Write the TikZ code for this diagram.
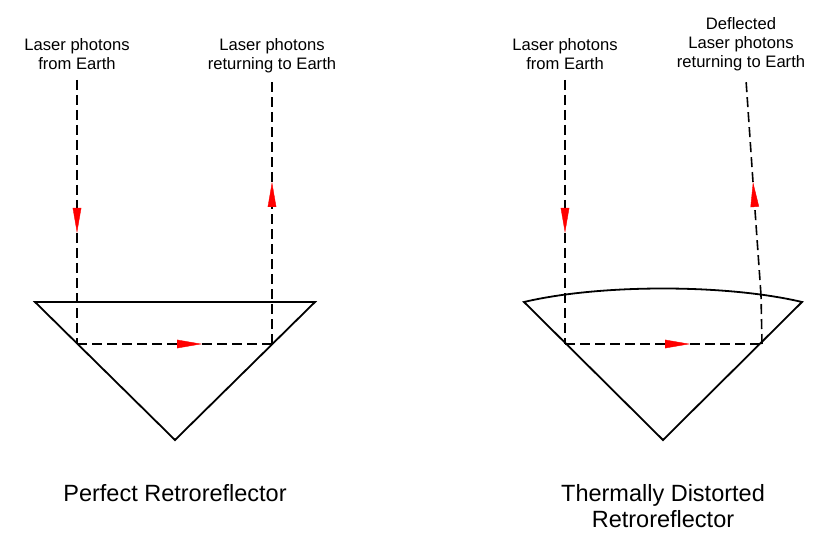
\documentclass[tikz,border=0pt]{standalone}
\usepackage{fontspec}
\setmainfont{Liberation Sans}
\usetikzlibrary{arrows.meta,positioning}

\begin{document}
\begin{tikzpicture}[x=1pt, y=-1pt,
                   prism/.style={line width=1.8pt, line join=miter},
                   ray/.style={line width=1.6pt, dash pattern=on 10pt off 5pt},
                   photon/.style={ray, -{Triangle[length=25pt, width=8.5pt, color=red, fill=red, line width=0.4pt]}},
                   lbl/.style={font=\fontsize{16.6}{19}\selectfont, align=center, inner sep=0pt, anchor=north},
                   heading/.style={font=\fontsize{23.5}{26}\selectfont, align=center, inner sep=0pt}]
  \useasboundingbox (0,0) rectangle (840,545);

  \coordinate (tlA) at (35,302);
  \coordinate (trA) at (315,302);
  \coordinate (apA) at (175,440);
  \draw[prism] (tlA) -- (trA) -- (apA) -- cycle;

  \coordinate (inA) at (77,80);
  \coordinate (downA) at (77,233);
  \coordinate (hitA) at (77,344);
  \coordinate (midA) at (202,344);
  \coordinate (outA) at (272,344);
  \coordinate (upA) at (272,182);
  \coordinate (endA) at (272,80);
  \draw[photon] (inA) -- (downA);
  \draw[ray] (downA) -- (hitA);
  \draw[photon] (hitA) -- (midA);
  \draw[ray] (midA) -- (outA);
  \draw[photon] (outA) -- (upA);
  \draw[ray] (upA) -- (endA);

  \node[lbl] (srcA) at (77,38) {Laser photons\\from Earth};
  \node[lbl] (retA) at (272,38) {Laser photons\\returning to Earth};
  \node[heading, below=44pt of apA] (nameA) {Perfect Retroreflector};

  \coordinate (tlB) at (524,302);
  \coordinate (trB) at (802,302);
  \coordinate (apB) at (663,440);
  \draw[prism] (tlB) .. controls (600,284) and (726,284) .. (trB) -- (apB) -- cycle;

  \coordinate (inB) at (565,80);
  \coordinate (downB) at (565,233);
  \coordinate (hitB) at (565,344);
  \coordinate (midB) at (690,344);
  \coordinate (outB) at (762,344);
  \coordinate (bendB) at (761,295);
  \coordinate (upB) at (753,182);
  \coordinate (endB) at (746,80);
  \draw[photon] (inB) -- (downB);
  \draw[ray] (downB) -- (hitB);
  \draw[photon] (hitB) -- (midB);
  \draw[ray] (midB) -- (outB);
  \draw[ray] (outB) -- (bendB);
  \draw[photon] (bendB) -- (upB);
  \draw[ray] (upB) -- (endB);

  \node[lbl] (srcB) at (565,38) {Laser photons\\from Earth};
  \node[lbl] (retB) at (741,17) {Deflected\\Laser photons\\returning to Earth};
  \node[heading, below=44pt of apB] (nameB) {Thermally Distorted\\Retroreflector};
\end{tikzpicture}
\end{document}
